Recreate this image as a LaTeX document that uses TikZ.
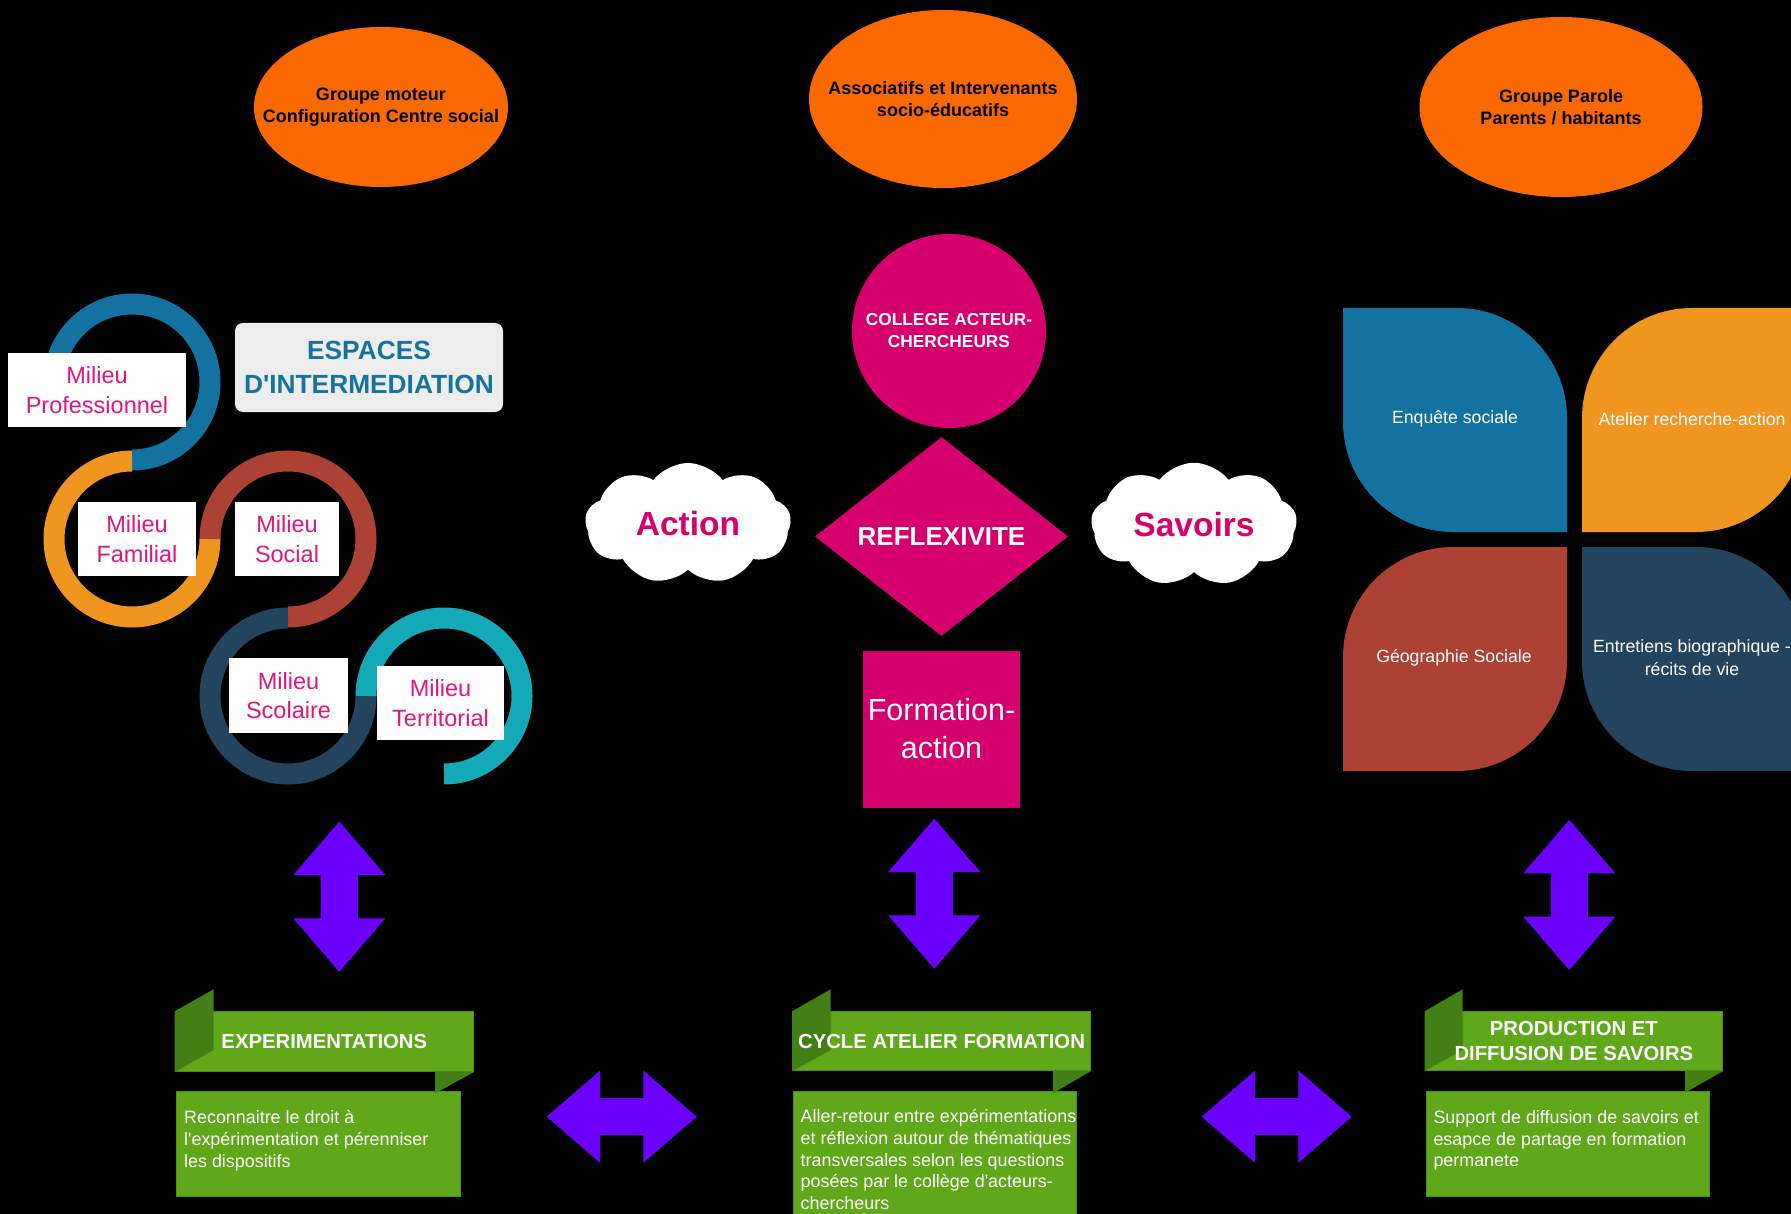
\documentclass[tikz,border=0pt]{standalone}
\usepackage{fontspec}
\setmainfont{Liberation Sans}[Ligatures=TeXOff]
\usetikzlibrary{shapes.geometric,shapes.symbols}
\definecolor{topor}{HTML}{FA6800}
\definecolor{shapemag}{HTML}{D5006D}
\definecolor{labmag}{HTML}{E0157F}
\definecolor{ringblue}{HTML}{13729F}
\definecolor{ringorange}{HTML}{F0951F}
\definecolor{ringred}{HTML}{AD4133}
\definecolor{ringnavy}{HTML}{22445F}
\definecolor{ringteal}{HTML}{14A9B6}
\definecolor{espbox}{HTML}{EDEDED}
\definecolor{esptext}{HTML}{16739F}
\definecolor{arrowpurple}{HTML}{6B00FF}
\definecolor{greenlight}{HTML}{5FA81A}
\definecolor{greendark}{HTML}{427F14}
\definecolor{greenedge}{HTML}{4C8E17}
\tikzset{
  topell/.style={ellipse, fill=topor, inner sep=0pt},
  toptext/.style={align=center, text=black, inner sep=0pt,
    font=\bfseries\fontsize{18}{21.5}\selectfont},
  milieu/.style={rectangle, fill=white, inner sep=0pt, align=center, text=labmag,
    font=\fontsize{23.5}{29.3}\selectfont},
  ring/.style={line width=21pt},
  leaftext/.style={text=white, align=center, font=\fontsize{17.7}{22.7}\selectfont},
  cloudbox/.style={cloud, cloud puffs=9, cloud puff arc=105, aspect=1.7, fill=white,
    inner sep=0pt, text=shapemag, font=\bfseries\fontsize{33.5}{40}\selectfont},
  bandbox/.style={rectangle, fill=greenlight, draw=greenedge, line width=0.8pt, inner sep=0pt},
  foldpart/.style={fill=greendark},
  bodybox/.style={rectangle, fill=greenlight, draw=greenedge, line width=0.8pt, inner sep=0pt},
  bandtitle/.style={text=white, align=center, inner sep=0pt,
    font=\bfseries\fontsize{20.3}{25}\selectfont},
  bodytext/.style={text=white, align=left, anchor=north west, inner sep=0pt,
    font=\fontsize{17.9}{21.6}\selectfont},
  dblarrow/.pic={\fill[arrowpurple] (0,-75) -- (46,-21.7) -- (18.5,-21.7) -- (18.5,21.7)
    -- (46,21.7) -- (0,75) -- (-46,21.7) -- (-18.5,21.7) -- (-18.5,-21.7) -- (-46,-21.7) -- cycle;}
}
\begin{document}
\begin{tikzpicture}[x=1pt,y=-1pt]
\useasboundingbox (0,0) rectangle (1791,1214);
\fill[black] (0,0) rectangle (1791,1214);
\clip (0,0) rectangle (1791,1214);

% top ellipses
\node[topell, minimum width=254, minimum height=160] (g1) at (381,107) {};
\node[toptext] (g1t) at (g1.center) {Groupe moteur\\Configuration Centre social};
\node[topell, minimum width=268, minimum height=178] (g2) at (943,99) {};
\node[toptext] (g2t) at (g2.center) {Associatifs et Intervenants\\socio-éducatifs};
\node[topell, minimum width=283, minimum height=180] (g3) at (1561,107) {};
\node[toptext] (g3t) at (g3.center) {Groupe Parole\\Parents / habitants};

% rings
\draw[ring, ringblue]   (54,382)  arc(180:450:78);
\draw[ring, ringorange] (132,461) arc(270:0:78);
\draw[ring, ringred]    (210,539) arc(180:450:78);
\draw[ring, ringnavy]   (288,618) arc(270:0:78);
\draw[ring, ringteal]   (366,696) arc(180:450:78);

\node[milieu, minimum width=178, minimum height=74] (mpro) at (97,390) {Milieu\\Professionnel};
\node[milieu, minimum width=118, minimum height=74] (mfam) at (137,539) {Milieu\\Familial};
\node[milieu, minimum width=104, minimum height=74] (msoc) at (287,539) {Milieu\\Social};
\node[milieu, minimum width=119, minimum height=75] (msco) at (288.5,695.5) {Milieu\\Scolaire};
\node[milieu, minimum width=127, minimum height=74] (mter) at (440.5,703) {Milieu\\Territorial};

\node[rectangle, rounded corners=8pt, fill=espbox, minimum width=268, minimum height=89,
  inner sep=0pt, align=center, text=esptext, font=\bfseries\fontsize{26.3}{33.4}\selectfont]
  (esp) at (369,367.5) {ESPACES\\D'INTERMEDIATION};

% middle column
\node[circle, fill=shapemag, minimum size=194, inner sep=0pt, align=center, text=white,
  font=\bfseries\fontsize{17.3}{22}\selectfont] (college) at (949,331) {COLLEGE ACTEUR-\\CHERCHEURS};
\node[diamond, aspect=1.27, fill=shapemag, minimum width=253, minimum height=199, inner sep=0pt,
  text=white, font=\bfseries\fontsize{26}{30}\selectfont] (reflex) at (941.5,536.5) {REFLEXIVITE};
\node[rectangle, fill=shapemag, minimum width=157, minimum height=157, inner sep=0pt, align=center,
  text=white, font=\fontsize{30.5}{38}\selectfont] (formation) at (941.5,729) {Formation-\\action};
\node[cloudbox, minimum width=206, minimum height=121] (action) at (688,523.5) {Action};
\node[cloudbox, minimum width=206, minimum height=121] (savoirs) at (1194,524.5) {Savoirs};

% leaves
\fill[ringblue] (1343,308) -- (1457,308) arc(270:360:110) -- (1567,532) -- (1453,532)
  arc(90:180:110) -- cycle;
\fill[ringorange] (1582,532) -- (1582,418) arc(180:270:110) -- (1806,308) -- (1806,422)
  arc(0:90:110) -- cycle;
\fill[ringred] (1343,771) -- (1343,657) arc(180:270:110) -- (1567,547) -- (1567,661)
  arc(0:90:110) -- cycle;
\fill[ringnavy] (1582,547) -- (1696,547) arc(270:360:110) -- (1806,771) -- (1692,771)
  arc(90:180:110) -- cycle;
\node[leaftext] (enq) at (1455,419) {Enquête sociale};
\node[leaftext] (atel) at (1692,419) {Atelier recherche-action};
\node[leaftext] (geo) at (1454,658) {Géographie Sociale};
\node[leaftext] (entr) at (1692,658) {Entretiens biographique -\\récits de vie};

% arrows
\pic (va1) at (339.3,896.7) {dblarrow};
\pic (va2) at (934.3,893.7) {dblarrow};
\pic (va3) at (1569.3,895) {dblarrow};
\pic[rotate=90] (ha1) at (621.7,1116.7) {dblarrow};
\pic[rotate=90] (ha2) at (1276.7,1116.7) {dblarrow};

% banner left
\node[bandbox, minimum width=298.6, minimum height=60] (band1) at (324.3,1041.7) {};
\fill[foldpart] (band1.north west) -- (213.6,989.3) -- (213.6,1050) -- (band1.south west) -- cycle;
\node[bodybox, minimum width=284, minimum height=105] (box1) at (318,1144.2) {};
\fill[foldpart] (435,1071.7) -- (band1.south east) -- (435,1093.3) -- cycle;
\node[bandtitle] (t1) at (band1.center) {EXPERIMENTATIONS};
\node[bodytext] (b1) at (184,1110.5)
  {Reconnaitre le droit à\\l'expérimentation et pérenniser\\les dispositifs};

% banner middle
\node[bandbox, minimum width=297.8, minimum height=59] (band2) at (941.5,1041.2) {};
\fill[foldpart] (band2.north west) -- (830.6,989.3) -- (830.6,1050) -- (band2.south west) -- cycle;
\node[bodybox, minimum width=283, minimum height=140] (box2) at (934.5,1161) {};
\fill[foldpart] (1052.8,1070.7) -- (band2.south east) -- (1052.8,1093.3) -- cycle;
\node[bandtitle] (t2) at (band2.center) {CYCLE ATELIER FORMATION};
\node[bodytext] (b2) at (800.5,1109.5)
  {Aller-retour entre expérimentations\\et réflexion autour de thématiques\\transversales selon les questions\\posées par le collège d'acteurs-\\chercheurs};

% banner right
\node[bandbox, minimum width=297.7, minimum height=59] (band3) at (1573.85,1041.2) {};
\fill[foldpart] (band3.north west) -- (1462.7,989.3) -- (1462.7,1050) -- (band3.south west) -- cycle;
\node[bodybox, minimum width=283.3, minimum height=105] (box3) at (1567.65,1143.5) {};
\fill[foldpart] (1685,1070.7) -- (band3.south east) -- (1685,1092.7) -- cycle;
\node[bandtitle] (t3) at (band3.center) {PRODUCTION ET\\DIFFUSION DE SAVOIRS};
\node[bodytext] (b3) at (1433.3,1110.5)
  {Support de diffusion de savoirs et\\esapce de partage en formation\\permanete};
\end{tikzpicture}
\end{document}
